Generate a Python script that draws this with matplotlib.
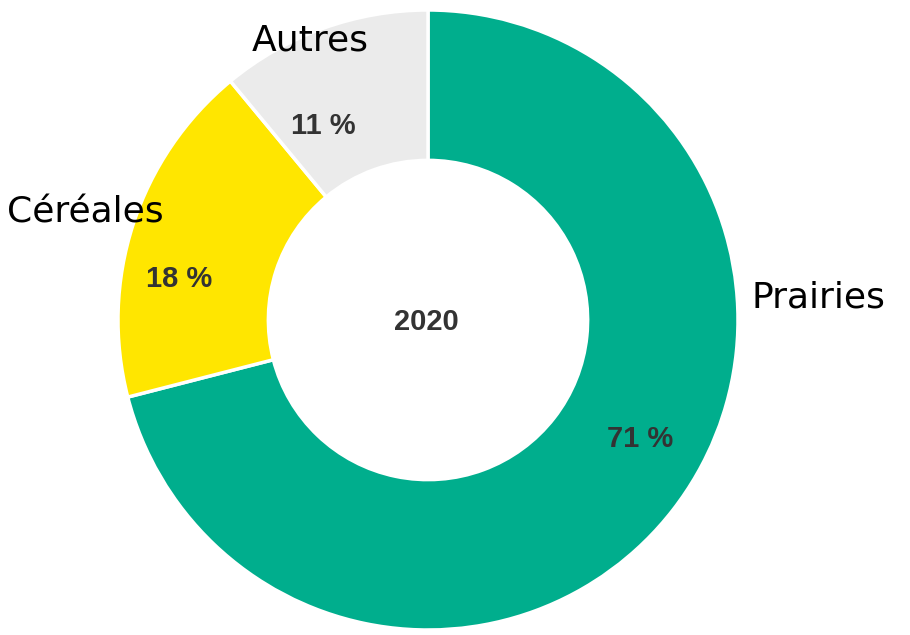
import numpy as np
import matplotlib.pyplot as plt

# Répartition de la surface agricole, 2020
categories = ["Prairies", "Céréales", "Autres"]
shares = [71, 18, 11]
colors = ["#00AE8D", "#FFE600", "#EBEBEB"]
center_label = "2020"

# positions of outer category names (data units, radius = 1)
name_pos = {"Prairies": (1.258, 0.074), "Céréales": (-1.106, 0.348), "Autres": (-0.381, 0.903)}
# distance of the percentage labels from the centre
pct_radius = [0.785, 0.815, 0.71]

fig = plt.figure(figsize=(9.1, 6.35), dpi=100)
ax = fig.add_axes([0, 0, 1, 1])

wedges, _ = ax.pie(shares, colors=colors, startangle=90, counterclock=False,
                   radius=1.0, wedgeprops=dict(width=0.485, edgecolor="white", linewidth=2.5))

# percentage labels inside the ring, slightly rotated from the wedge middle
for w, val, r in zip(wedges, shares, pct_radius):
    mid = np.deg2rad((w.theta1 + w.theta2) / 2 + 8.6)
    ax.text(r * np.cos(mid), r * np.sin(mid), f"{val} %", ha="center", va="center",
            fontsize=21, family="Liberation Sans", color="#333333", fontweight="bold")

for name in categories:
    x, y = name_pos[name]
    ax.text(x, y, name, ha="center", va="center", fontsize=26, family="DejaVu Sans", color="black")

ax.text(-0.006, -0.007, center_label, ha="center", va="center", fontsize=21,
        family="Liberation Sans", color="#333333", fontweight="bold")

ax.set_xlim(-428 / 310, (910 - 428) / 310)
ax.set_ylim(-(635 - 320) / 310, 320 / 310)
ax.set_aspect("equal")
ax.axis("off")

fig.savefig("out.png", dpi=100, facecolor="white")
